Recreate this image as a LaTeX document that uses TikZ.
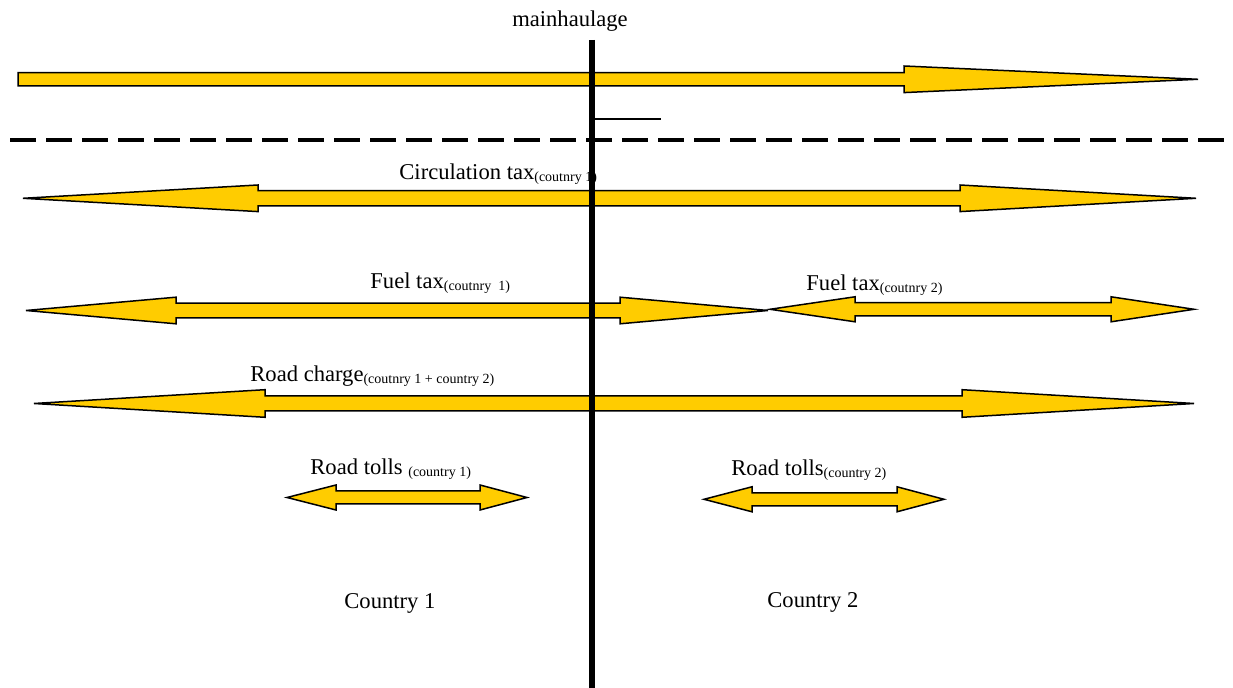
\documentclass[tikz,border=0pt]{standalone}
\usepackage{fontspec}
\setmainfont{Liberation Serif}
\usepackage{tikz}
\definecolor{bandyellow}{RGB}{255,204,0}
\tikzstyle{band}=[draw, fill=bandyellow
,line width=0.75pt
,line join=miter
]
\tikzstyle{label}=[inner sep=0pt, anchor=base west
,font=\fontsize{11.3}{13}\selectfont
]
\tikzstyle{border}=[draw, line width=2.6pt]
\newcommand{\lowtext}[1]{\raisebox{-1pt}{\fontsize{7}{8}\selectfont #1}}

\begin{document}
\begin{tikzpicture}[x=0.5pt,y=-0.5pt]
    \useasboundingbox (0,0) rectangle (1233,688);
    % the one-way arrow on top
    \draw[band] (18,72.6) -- (904,72.6) -- (904,66) -- (1198,79.3) -- (904,92.6) -- (904,86) -- (18,86) -- cycle;
    % two-way arrows: left tip / left head / right head / right tip / y / shaft / head
    \foreach \xa/\xb/\xc/\xd/\y/\s/\h in {23/258/960/1196/198.3/7.7/13.3, 26/176/620/768/310.5/7.3/13.3,
        770/855/1111/1194/309.3/6.7/12.5, 34/265/962/1194/403.5/7.5/13.8,
        287/336/480/527/497.5/6.5/12.5, 704/752/897/944/499.3/6.5/12.5}
        \draw[band] (\xa,\y) -- (\xb,\y-\h) -- (\xb,\y-\s) -- (\xc,\y-\s) -- (\xc,\y-\h) -- (\xd,\y)
            -- (\xc,\y+\h) -- (\xc,\y+\s) -- (\xb,\y+\s) -- (\xb,\y+\h) -- cycle;

    % Labels
    \node[label, anchor=base] (mainhaulage) at (570,26.7) {mainhaulage};
    \node[label] (circ) at (399,180) {Circulation tax\lowtext{(coutnry 1)}};
    \node[label] (fuel1) at (370,289) {Fuel tax\lowtext{(coutnry\ \ 1)}};
    \node[label] (fuel2) at (806,290.7) {Fuel tax\lowtext{(coutnry 2)}};
    \node[label] (charge) at (250,381.7) {Road charge\lowtext{(coutnry 1 + country 2)}};
    \node[label] (tolls1) at (310,475) {Road tolls \lowtext{(country 1)}};
    \node[label] (tolls2) at (731,476) {Road tolls\lowtext{(country 2)}};
    \node[label] (country1) at (344,609) {Country 1};
    \node[label] (country2) at (767,608) {Country 2};

    % Border and dividers
    \coordinate (dash l) at (10,140);
    \coordinate (dash r) at (1233,140);
    \draw[line width=1.6pt, dash pattern=on 13pt off 5pt] (dash l) -- (dash r);
    \coordinate (tick l) at (594,119);
    \coordinate (tick r) at (661,119);
    \draw[line width=0.6pt] (tick l) -- (tick r);
    \coordinate (border top) at (592,40);
    \coordinate (border bot) at (592,688);
    \path[border] (border top) -- (border bot);
\end{tikzpicture}
\end{document}
